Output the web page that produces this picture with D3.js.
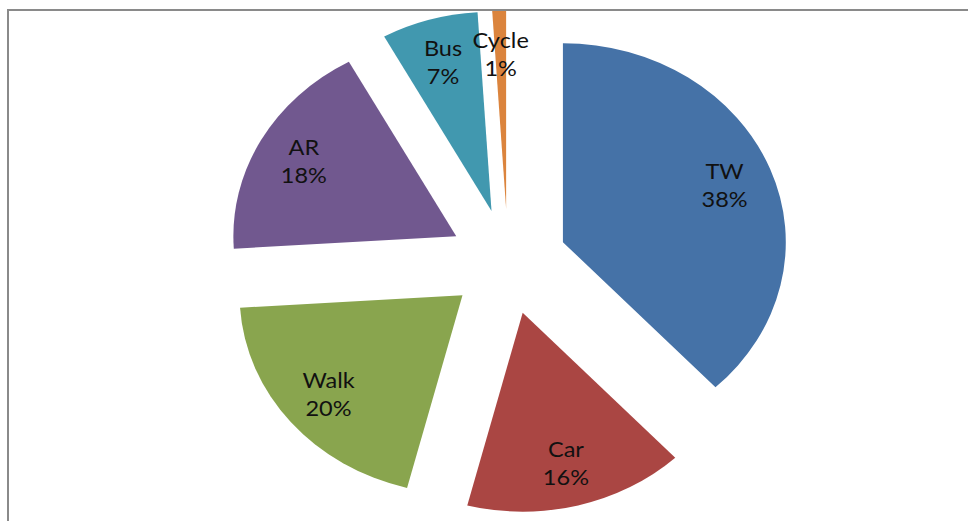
<!DOCTYPE html>
<html>
<head>
<meta charset="utf-8">
<script src="https://cdn.jsdelivr.net/npm/d3@7"></script>
<style>
  html, body { margin: 0; padding: 0; background: #fff; }
  svg { display: block; }
</style>
</head>
<body>
<svg id="chart" width="968" height="521"></svg>
<script>
// Modal share of trips
const categories = ["TW", "Car", "Walk", "AR", "Bus", "Cycle"];
const shares = [38, 16, 20, 18, 7, 1];
const palette = ["#4572A7", "#AA4643", "#89A54E", "#71588F", "#4198AF", "#DB843D"];

const W = 968, H = 521;
const svg = d3.select("#chart");

// chart frame (runs off the right and bottom edges)
svg.append("rect")
  .attr("x", 8).attr("y", 10)
  .attr("width", 1000).attr("height", 600)
  .attr("fill", "#fff")
  .attr("stroke", "#8a8a8a")
  .attr("stroke-width", 2);

const clip = svg.append("defs").append("clipPath").attr("id", "plot");
clip.append("rect").attr("x", 9).attr("y", 11).attr("width", W).attr("height", H);

const r = 199;            // pie radius
const explode = 0.265 * r; // slice offset from centre
const stretchX = 1.12;    // horizontal stretch of the drawing
const cx = 508, cy = 261.6;

const colour = d3.scaleOrdinal().domain(categories).range(palette);

const pie = d3.pie().sort(null).value(d => d.value)
  .startAngle(0).endAngle(2 * Math.PI);
const arc = d3.arc().innerRadius(0).outerRadius(r);

const data = categories.map((c, i) => ({ name: c, value: shares[i] }));
const slices = pie(data);

const g = svg.append("g").attr("clip-path", "url(#plot)")
  .append("g")
  .attr("transform", `translate(${cx},${cy}) scale(${stretchX},1)`);

const slice = g.selectAll("g.slice")
  .data(slices)
  .join("g")
  .attr("class", "slice")
  .attr("transform", d => {
    const m = (d.startAngle + d.endAngle) / 2;
    return `translate(${explode * Math.sin(m)},${-explode * Math.cos(m)})`;
  });

slice.append("path")
  .attr("d", arc)
  .attr("fill", d => colour(d.data.name));

const labelR = 0.78 * r;
const label = slice.append("text")
  .attr("font-family", "Lato, 'Open Sans', sans-serif")
  .attr("font-size", 21)
  .attr("fill", "#111")
  .attr("text-anchor", "middle")
  .attr("transform", d => {
    const m = (d.startAngle + d.endAngle) / 2;
    return `translate(${labelR * Math.sin(m)},${-labelR * Math.cos(m)})`;
  });

label.append("tspan")
  .attr("x", 0).attr("y", -14)
  .attr("dominant-baseline", "central")
  .text(d => d.data.name);
label.append("tspan")
  .attr("x", 0).attr("y", 14)
  .attr("dominant-baseline", "central")
  .text(d => d.data.value + "%");
</script>
</body>
</html>
